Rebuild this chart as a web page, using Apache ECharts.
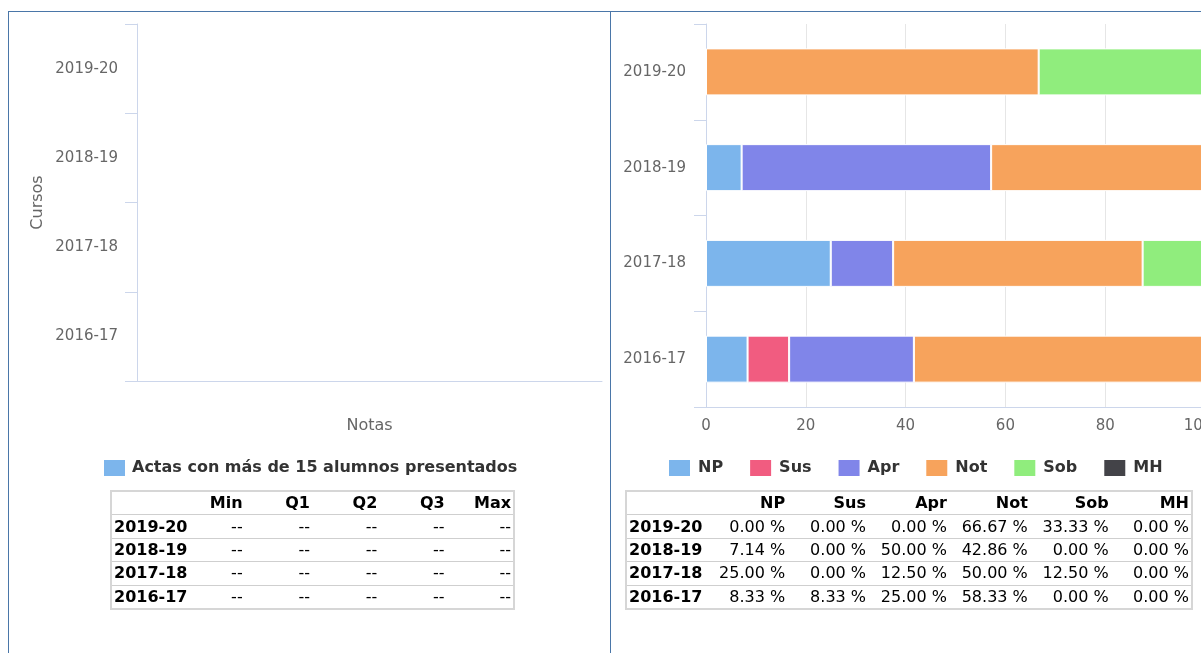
<!DOCTYPE html>
<html><head><meta charset="utf-8">
<script src="https://cdn.jsdelivr.net/npm/echarts@6/dist/echarts.min.js"></script>
<style>
html,body{margin:0;padding:0;width:1201px;height:653px;overflow:hidden;background:#fff;font-family:"DejaVu Sans",sans-serif;}
#panelL{position:absolute;left:8px;top:11px;width:601px;height:700px;border:1px solid #4a76a8;border-bottom:none;}
#panelR{position:absolute;left:611px;top:11px;width:700px;height:0;border-top:1px solid #4a76a8;}
#chart{position:absolute;left:0;top:0;width:1240px;height:653px;}
table.t{position:absolute;border-collapse:collapse;table-layout:fixed;font-size:16px;color:#000;border:2px solid #d6d6d6;font-family:"DejaVu Sans",sans-serif;}
table.t td,table.t th{height:22.4px;padding:0 2px 0 2px;text-align:right;white-space:nowrap;border-bottom:1px solid #cfcfcf;line-height:22px;overflow:visible;}
table.t th{font-weight:bold;}
table.t td.lab{text-align:left;font-weight:bold;}
#tabL{left:110px;top:490px;width:405px;}
#tabR{left:625px;top:490px;width:568px;}
</style></head>
<body>
<div id="panelL"></div>
<div id="panelR"></div>
<div id="chart"></div>
<table class="t" id="tabL"></table>
<table class="t" id="tabR"></table>
<script>
// ---- data ----
const courses = ['2019-20', '2018-19', '2017-18', '2016-17'];
const gradeNames = ['NP', 'Sus', 'Apr', 'Not', 'Sob', 'MH'];
const NP  = [0.00, 7.14, 25.00, 8.33];
const Sus = [0.00, 0.00, 0.00, 8.33];
const Apr = [0.00, 50.00, 12.50, 25.00];
const Not = [66.67, 42.86, 50.00, 58.33];
const Sob = [33.33, 0.00, 12.50, 0.00];
const MH  = [0.00, 0.00, 0.00, 0.00];
const gradeColors = ['#7cb5ec', '#f15c80', '#8085e9', '#f7a35c', '#90ed7d', '#434348'];
const statNames = ['Min', 'Q1', 'Q2', 'Q3', 'Max'];
const boxMin = [null, null, null, null];
const boxQ1  = [null, null, null, null];
const boxQ2  = [null, null, null, null];
const boxQ3  = [null, null, null, null];
const boxMax = [null, null, null, null];
const boxSeriesName = 'Actas con más de 15 alumnos presentados';
const pctTicks = [0, 20, 40, 60, 80, 100];

const gradeData = [NP, Sus, Apr, Not, Sob, MH];
const boxCols = [boxMin, boxQ1, boxQ2, boxQ3, boxMax];

// ---- chart ----
const chart = echarts.init(document.getElementById('chart'), null, {renderer: 'canvas'});
const axisCol = '#ccd6eb';
const labCol = '#666666';
const font = '"DejaVu Sans", sans-serif';
const pctMax = pctTicks[pctTicks.length - 1];

const barSeries = gradeNames.map((n, k) => ({
  name: n, type: 'bar', stack: 'total', xAxisIndex: 1, yAxisIndex: 1,
  barWidth: 47,
  itemStyle: {color: gradeColors[k], borderColor: '#ffffff', borderWidth: 1},
  data: gradeData[k].map(v => v === 0 ? '-' : v)
}));

const boxData = courses.map((c, i) => boxCols.map(col => col[i] == null ? '-' : col[i]));

chart.setOption({
  animation: false,
  textStyle: {fontFamily: font},
  grid: [
    {left: 137, top: 24, width: 465, height: 357},
    {left: 706, top: 24, width: 499, height: 383}
  ],
  xAxis: [
    {type: 'value', gridIndex: 0, min: 0, max: 10,
     axisLine: {show: true, lineStyle: {color: axisCol}},
     axisTick: {show: false}, axisLabel: {show: false}, splitLine: {show: false},
     name: 'Notas', nameLocation: 'middle', nameGap: 37,
     nameTextStyle: {fontSize: 16, color: labCol, fontFamily: font}},
    {type: 'value', gridIndex: 1, min: pctTicks[0], max: pctMax, interval: 20,
     axisLine: {show: true, lineStyle: {color: axisCol}},
     axisTick: {show: false},
     axisLabel: {fontSize: 15, color: labCol, margin: 12, fontFamily: font,
       formatter: v => v === pctMax ? '{m|' + v + '}' : String(v),
       rich: {m: {padding: [0, 14, 0, 0], fontSize: 15, color: labCol, fontFamily: font}}},
     splitLine: {show: true, lineStyle: {color: '#e6e6e6'}}}
  ],
  yAxis: [
    {type: 'category', gridIndex: 0, data: courses, inverse: true,
     axisLine: {show: true, lineStyle: {color: axisCol}},
     axisTick: {show: true, length: 12, lineStyle: {color: axisCol}},
     axisLabel: {fontSize: 15, color: labCol, margin: 19, fontFamily: font},
     name: 'Cursos', nameLocation: 'middle', nameRotate: 90, nameGap: 91,
     nameTextStyle: {fontSize: 16, color: labCol, fontFamily: font}},
    {type: 'category', gridIndex: 1, data: courses, inverse: true,
     axisLine: {show: true, lineStyle: {color: axisCol}},
     axisTick: {show: true, length: 12, lineStyle: {color: axisCol}},
     axisLabel: {fontSize: 15, color: labCol, margin: 20, fontFamily: font}}
  ],
  legend: [
    {left: 104, top: 460, padding: 0, itemWidth: 21, itemHeight: 16, icon: 'rect',
     textStyle: {fontSize: 16, fontWeight: 'bold', color: '#333333', padding: [0, 0, 0, 2], fontFamily: font},
     data: [{name: boxSeriesName, icon: 'rect', itemStyle: {color: '#7cb5ec', borderWidth: 0}}]},
    {left: 669, top: 460, padding: 0, itemWidth: 21, itemHeight: 16, itemGap: 27, icon: 'rect',
     textStyle: {fontSize: 16, fontWeight: 'bold', color: '#333333', padding: [0, 0, 0, 3], fontFamily: font},
     data: gradeNames.map((n, k) => ({name: n, icon: 'rect', itemStyle: {color: gradeColors[k], borderWidth: 0}}))}
  ],
  series: [
    {name: boxSeriesName, type: 'boxplot', xAxisIndex: 0, yAxisIndex: 0,
     itemStyle: {color: '#7cb5ec', borderColor: '#7cb5ec'},
     data: boxData}
  ].concat(barSeries)
});

// ---- tables ----
function buildTable(el, headers, rows, colWidths) {
  let h = '<colgroup>' + colWidths.map(w => '<col style="width:' + w + 'px">').join('') + '</colgroup>';
  h += '<tr><th></th>' + headers.map(x => '<th>' + x + '</th>').join('') + '</tr>';
  rows.forEach((r, i) => {
    h += '<tr><td class="lab">' + r[0] + '</td>' +
      r.slice(1).map(x => '<td>' + x + '</td>').join('') + '</tr>';
  });
  el.innerHTML = h;
}
buildTable(document.getElementById('tabL'), statNames,
  courses.map((c, i) => [c].concat(boxCols.map(col => col[i] == null ? '--' : col[i].toFixed(2)))),
  [66, 67, 67, 67, 67, 67]);
buildTable(document.getElementById('tabR'), gradeNames,
  courses.map((c, i) => [c].concat(gradeData.map(col => col[i].toFixed(2) + ' %'))),
  [80, 80.6, 80.6, 80.6, 80.6, 80.6, 81]);
</script>
</body></html>
